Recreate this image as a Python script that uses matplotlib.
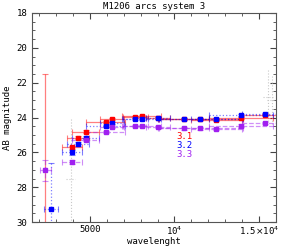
#!/usr/bin/env python
# -*- coding: utf-8 -*-
# M1206 arcs system 3: photometry of the three images of the arc

import numpy as np
import matplotlib
matplotlib.use("Agg")
from matplotlib import pyplot as plt
from matplotlib import ticker

#------------------------------------------------------------------------------
# data
#------------------------------------------------------------------------------
filters = ["F225W", "F275W", "F390W", "F435W", "F475W", "F606W", "F625W",
           "F775W", "F814W", "F850LP", "F105W", "F110W", "F125W", "F140W",
           "F160W"]
lam = [2359, 2704, 3924, 4319, 4747, 5921, 6311, 7693, 8057, 9033, 10552,
       11534, 12486, 13923, 15369]
dlam = [330, 410, 600, 650, 800, 1180, 700, 750, 1150, 700, 1480, 2500,
        1500, 1900, 1400]

nan = np.nan
mag31 = [31.5, nan, 25.71, 25.16, 24.81, 24.25, 24.08, 23.97, 23.93, 24.01,
         24.06, 24.08, 24.12, 24.04, 23.87]
err31 = [10.0, nan, 0.10, 0.08, 0.07, 0.05, 0.05, 0.05, 0.05, 0.06, 0.06,
         0.06, 0.06, 0.06, 0.06]
mag32 = [nan, 29.27, 26.00, 25.52, 25.16, 24.49, 24.30, 24.08, 24.07, 24.03,
         24.08, 24.07, 24.08, 23.88, 23.78]
err32 = [nan, 2.67, 0.15, 0.10, 0.08, 0.06, 0.06, 0.05, 0.05, 0.06, 0.06,
         0.06, 0.06, 0.06, 0.06]
mag33 = [27.03, nan, 26.57, nan, 25.29, 24.83, 24.56, 24.47, 24.47, 24.53,
         24.62, 24.62, 24.66, 24.47, 24.33]
err33 = [0.60, nan, 0.12, nan, 0.08, 0.06, 0.06, 0.06, 0.06, 0.07, 0.07,
         0.07, 0.07, 0.07, 0.07]

# faint grey measurements (no label)
lam_g = [3860, 15560, 15750]
dlam_g = [250, 300, 300]
mag_g = [27.5, 22.8, 23.0]
err_g = [3.4, 1.5, 1.4]

labels = ["3.1", "3.2", "3.3"]
colors = ["#ff0000", "#0000ff", "#a020f0"]

#------------------------------------------------------------------------------
# plot
#------------------------------------------------------------------------------
def main():
    plt.rcParams['font.family'] = ['DejaVu Sans Mono']
    fig = plt.figure(figsize=(2.91, 2.49), dpi=100)
    ax = fig.add_axes([0.110, 0.108, 0.838, 0.840])

    eg = ax.errorbar(lam_g, mag_g, xerr=dlam_g, yerr=err_g, fmt="none",
                     ecolor="#c8c8c8", elinewidth=0.8, capsize=0)
    for lc in eg.lines[2]:
        lc.set_linestyle(":")

    series = [(mag31, err31, "-"), (mag32, err32, ":"), (mag33, err33, "--")]
    for (mag, err, ls), col, lab in zip(series, colors, labels):
        x = np.array(lam, float)
        y = np.array(mag, float)
        e = np.array(err, float)
        ok = ~np.isnan(y)
        eb = ax.errorbar(x[ok], y[ok], xerr=np.array(dlam)[ok], yerr=e[ok],
                         fmt="s", ms=3.3, mfc=col, mec=col, ecolor=col,
                         elinewidth=0.9, capsize=2, capthick=0.8,
                         label=lab)
        for lc in eb.lines[2]:
            lc.set_linestyle(ls)
            lc.set_alpha(0.5)
        for cap in eb.lines[1]:
            cap.set_alpha(0.5)

    ax.set_xlim(1570, 16000)
    ax.set_ylim(30, 18)

    ax.xaxis.set_major_locator(ticker.FixedLocator([5000, 10000, 15000]))
    ax.xaxis.set_major_formatter(ticker.FixedFormatter(
        ["5000", r"10$^4$", r"1.5$\times$10$^4$"]))
    ax.xaxis.set_minor_locator(ticker.MultipleLocator(1000))
    ax.yaxis.set_major_locator(ticker.MultipleLocator(2))
    ax.yaxis.set_minor_locator(ticker.MultipleLocator(0.5))
    ax.tick_params(which="both", direction="in", top=True, right=True,
                   labelsize=6.5, color="#444444")
    ax.tick_params(which="major", length=4)
    ax.tick_params(which="minor", length=2)
    ax.tick_params(axis="x", pad=2)
    for sp in ax.spines.values():
        sp.set_color("#555555")

    ax.set_title("M1206 arcs system 3", fontsize=6.5, pad=3)
    ax.set_xlabel("wavelenght", fontsize=6.5, labelpad=0)
    ax.set_ylabel("AB magnitude", fontsize=6.5, labelpad=3)

    for i, (lab, col) in enumerate(zip(labels, colors)):
        ax.text(0.59, 0.41 - i * 0.043, lab, color=col, fontsize=6.5,
                transform=ax.transAxes, va="center", ha="left")

    fig.savefig("out.png", dpi=100)


if __name__ == '__main__':
    main()
